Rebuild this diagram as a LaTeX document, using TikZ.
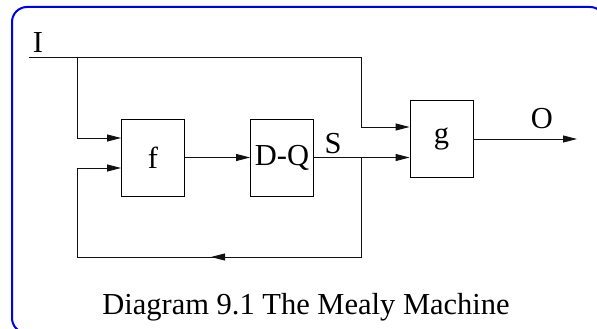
\documentclass[tikz,border=0pt]{standalone}
\usepackage{fontspec}
\setmainfont{Liberation Serif}
\usetikzlibrary{arrows.meta}
\definecolor{frame}{HTML}{0000F0}
\definecolor{ink}{HTML}{111111}

\begin{document}
\begin{tikzpicture}[x=1pt,y=-1pt,line width=0.9pt,color=ink,
  every node/.style={font=\fontsize{30.5}{34}\selectfont,color=black},
  blockbox/.style={draw,minimum width=63pt,minimum height=77pt,inner sep=0pt},
  arr/.style={-{Triangle[length=14pt,width=7pt]}}]
\useasboundingbox (0,0) rectangle (597,329);
\clip (0,0) rectangle (597,329);
\draw[frame,line width=2pt,rounded corners=15pt] (12,7) rectangle (605,333);
% the three blocks
\foreach \n/\x/\y/\t in {f/153/157.5/f, DQ/282/157.5/D-Q, g/441.5/139/g}{
  \node[blockbox] (\n) at (\x,\y) {\t};
}
\coordinate (iin) at (29,57);
\coordinate (ibr) at (77,57);
\coordinate (itop) at (361,57);
\coordinate (fbr) at (361,157.5);
\coordinate (fbbot) at (361,257);
\coordinate (fbmid) at (211,257);
\coordinate (fbleft) at (77,257);
\coordinate (gout) at (577,139);
% input line
\draw (iin) -- (itop);
\draw[arr] (itop) |- ([yshift=12pt]g.west);
\draw[arr] (ibr) |- ([yshift=19.5pt]f.west);
% state path
\draw[arr] (f) -- (DQ);
\draw[arr] (DQ.east) -- (DQ.east -| g.west);
\draw (fbr) -- (fbbot) -- (fbleft);
\draw[arr] (fbbot) -- (fbmid);
\draw[arr] (fbleft) |- ([yshift=-10.5pt]f.west);
\draw[arr] (g.east) -- (gout);
% labels
\node[anchor=base] (lI) at (38,53) {I};
\node[anchor=base] (lS) at (333,153) {S};
\node[anchor=base] (lO) at (542,128) {O};
\node[anchor=base] (cap) at (306,314) {Diagram 9.1 The Mealy Machine};
\end{tikzpicture}
\end{document}
